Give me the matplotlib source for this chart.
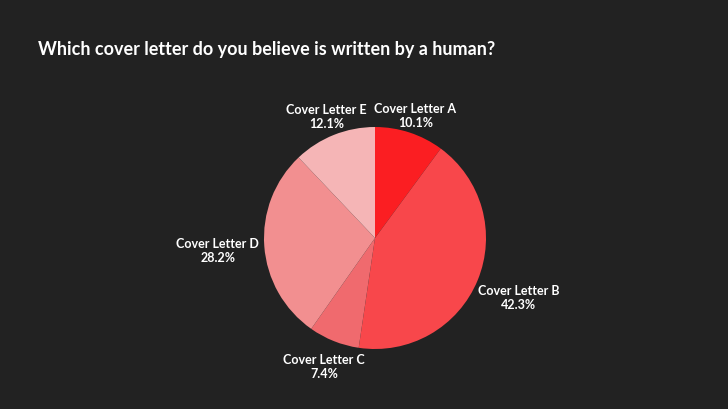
import numpy as np
import matplotlib.pyplot as plt

plt.rcParams['font.family'] = ['Lato', 'DejaVu Sans']

labels = ['Cover Letter A', 'Cover Letter B', 'Cover Letter C', 'Cover Letter D', 'Cover Letter E']
shares = [10.1, 42.3, 7.4, 28.2, 12.1]
colors = ['#fb1e22', '#f8474b', '#f06a6e', '#f28f90', '#f5b5b6']
label_dist = [1.17, 1.40, 1.24, 1.42, 1.18]

W, H = 728, 410
fig = plt.figure(figsize=(W / 100, H / 100), dpi=100, facecolor='#222222')
r = 111
cx, cy = 375, 239
ax = fig.add_axes([(cx - r) / W, (H - cy - r) / H, 2 * r / W, 2 * r / H])
ax.set_facecolor('#222222')

wedges, _ = ax.pie(shares, colors=colors, startangle=90, counterclock=False,
                   radius=1, wedgeprops=dict(linewidth=0))
ax.set_xlim(-1, 1)
ax.set_ylim(-1, 1)
ax.set_aspect('equal')
ax.axis('off')

for w, lab, v, d in zip(wedges, labels, shares, label_dist):
    ang = np.deg2rad((w.theta1 + w.theta2) / 2)
    ax.text(d * np.cos(ang), d * np.sin(ang), f'{lab}\n{v:.1f}%',
            ha='center', va='center', color='white', fontsize=9,
            fontweight='bold', linespacing=1.2, clip_on=False)

fig.text(38 / W, 1 - 49 / H, 'Which cover letter do you believe is written by a human?',
         color='white', fontsize=13, fontweight='bold', va='center', ha='left')

fig.savefig('out.png', dpi=100, facecolor='#222222')
